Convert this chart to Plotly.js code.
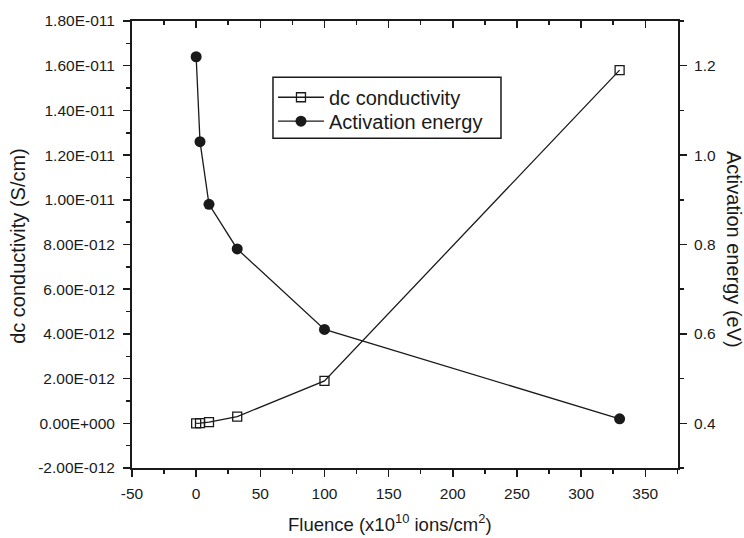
<!DOCTYPE html>
<html><head><meta charset="utf-8">
<script src="https://cdn.plot.ly/plotly-3.0.1.min.js"></script>
<style>html,body{margin:0;padding:0;background:#fff}</style>
</head><body><div id="chart" style="width:744px;height:538px"></div>
<script>
// Data
const fluence = [0, 3, 10, 32, 100, 330];
const dcConductivity = [1e-15, 5e-15, 5e-14, 3e-13, 1.9e-12, 1.58e-11];
const activationEnergy = [1.22, 1.03, 0.89, 0.79, 0.61, 0.41];
const xTickVals = [-50, 0, 50, 100, 150, 200, 250, 300, 350];
const xTickText = ['-50','0','50','100','150','200','250','300','350'];
const leftTickVals = [-2e-12, 0, 2e-12, 4e-12, 6e-12, 8e-12, 1e-11, 1.2e-11, 1.4e-11, 1.6e-11, 1.8e-11];
const leftTickText = ['-2.00E-012','0.00E+000','2.00E-012','4.00E-012','6.00E-012','8.00E-012','1.00E-011','1.20E-011','1.40E-011','1.60E-011','1.80E-011'];
const rightTickVals = [0.4, 0.6, 0.8, 1.0, 1.2];
const rightTickText = ['0.4','0.6','0.8','1.0','1.2'];

const F = 'Liberation Sans, Arial, sans-serif';
const C = '#1a1a1a';

const traces = [
  {x: fluence, y: dcConductivity, name: 'dc conductivity', type: 'scatter', mode: 'lines+markers',
   line: {color: C, width: 1.3},
   marker: {symbol: 'square-open', size: 9, color: C, line: {width: 1.3, color: C}},
   xaxis: 'x', yaxis: 'y', legend: 'legend'},
  {x: fluence, y: activationEnergy, name: 'Activation energy', type: 'scatter', mode: 'lines+markers',
   line: {color: C, width: 1.3},
   marker: {symbol: 'circle', size: 11, color: C},
   xaxis: 'x', yaxis: 'y2', legend: 'legend2'},
  {x: [fluence[0]], y: [dcConductivity[0]], xaxis: 'x2', yaxis: 'y', mode: 'markers',
   marker: {opacity: 0}, showlegend: false, hoverinfo: 'skip'}
];

const tickCommon = {ticklen: 7, tickwidth: 1.5, tickcolor: C, showline: true, linecolor: C, linewidth: 2,
  showgrid: false, zeroline: false, tickfont: {family: F, size: 15.5, color: C}};

const legendCommon = {xanchor: 'left', yanchor: 'middle', borderwidth: 0, bgcolor: 'rgba(0,0,0,0)',
  font: {family: F, size: 20, color: C}, itemwidth: 46};

const layout = {
  width: 744, height: 538,
  margin: {l: 132, r: 66, t: 21, b: 70},
  paper_bgcolor: '#fff', plot_bgcolor: '#fff',
  font: {family: F, color: C, size: 15},
  showlegend: true,
  legend: Object.assign({}, legendCommon, {x: 0.2582, y: 0.8294}),
  legend2: Object.assign({}, legendCommon, {x: 0.2582, y: 0.7758}),
  shapes: [{type: 'rect', xref: 'paper', yref: 'paper', x0: 0.2582, x1: 0.6758, y0: 0.7378, y1: 0.8741,
    line: {color: C, width: 1.5}, fillcolor: 'rgba(0,0,0,0)', layer: 'below'}],
  xaxis: Object.assign({}, tickCommon, {range: [-50, 375.5], tickvals: xTickVals, ticktext: xTickText,
    ticks: 'outside', ticklabelstandoff: 3,
    minor: {dtick: 25, tick0: 0, ticks: 'outside', ticklen: 4, tickwidth: 1.5, tickcolor: C}}),
  xaxis2: Object.assign({}, tickCommon, {overlaying: 'x', matches: 'x', side: 'top', range: [-50, 375.5],
    tickvals: xTickVals, showticklabels: false, ticks: 'inside',
    minor: {dtick: 25, tick0: 0, ticks: 'inside', ticklen: 4, tickwidth: 1.5, tickcolor: C}}),
  yaxis: Object.assign({}, tickCommon, {range: [-2e-12, 1.8e-11], tickvals: leftTickVals, ticktext: leftTickText,
    ticks: 'outside', ticklabelstandoff: 5,
    minor: {dtick: 1e-12, tick0: 0, ticks: 'outside', ticklen: 4, tickwidth: 1.5, tickcolor: C}}),
  yaxis2: Object.assign({}, tickCommon, {overlaying: 'y', side: 'right', range: [0.3, 1.3],
    tickvals: rightTickVals, ticktext: rightTickText, ticks: 'outside', ticklabelstandoff: 4,
    minor: {dtick: 0.1, tick0: 0.3, ticks: 'outside', ticklen: 4, tickwidth: 1.5, tickcolor: C}}),
  annotations: [
    {text: 'Activation energy (eV)', xref: 'paper', yref: 'paper', x: 1.1026, y: 0.49,
     xanchor: 'center', yanchor: 'middle', textangle: 90, showarrow: false,
     font: {family: F, size: 20, color: C}},
    {text: 'dc conductivity (S/cm)', xref: 'paper', yref: 'paper', x: -0.2088, y: 0.497,
     xanchor: 'center', yanchor: 'middle', textangle: -90, showarrow: false,
     font: {family: F, size: 20, color: C}},
    {text: 'Fluence (x10<sup>10</sup> ions/cm<sup>2</sup>)', xref: 'paper', yref: 'paper', x: 0.4725, y: -0.123,
     xanchor: 'center', yanchor: 'middle', showarrow: false,
     font: {family: F, size: 18.5, color: C}}
  ]
};

Plotly.newPlot('chart', traces, layout, {displayModeBar: false, staticPlot: true});
</script></body></html>
